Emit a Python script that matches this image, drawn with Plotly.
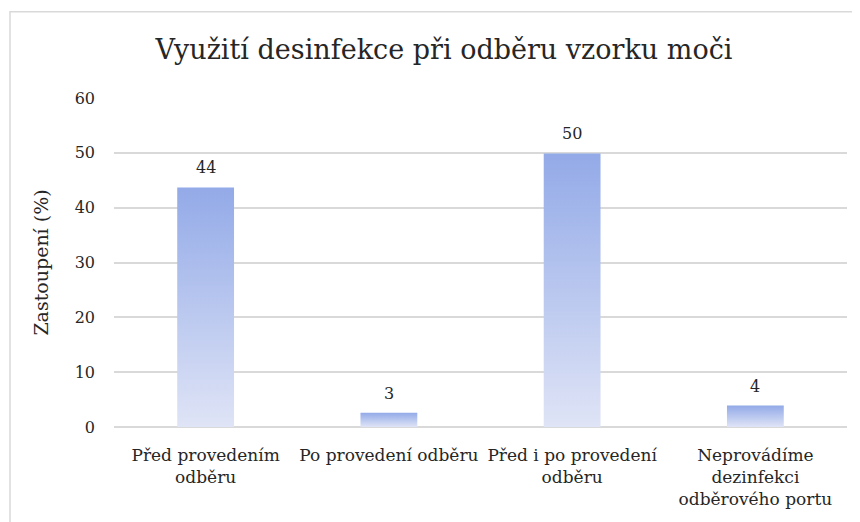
import plotly.graph_objects as go

# Data
categories = [
    "Před provedením<br>odběru",
    "Po provedení odběru",
    "Před i po provedení<br>odběru",
    "Neprovádíme<br>dezinfekci<br>odběrového portu",
]
values = [43.7, 2.6, 49.9, 3.9]
y_ticks = [0, 10, 20, 30, 40, 50, 60]

TOP_COLOR = "#93aae8"
BOTTOM_COLOR = "#dfe4f6"
GRID = "#d9d9d9"
TEXT = "#262626"
FONT = "DejaVu Serif"  # the only serif face the renderer has
BAR_WIDTH = 0.31

# the page body has an 8px margin, so the figure is drawn 8px in
W, H = 852, 514

fig = go.Figure()

# gradient bars: one filled area per category, gradient from 0 up to the value
for i, v in enumerate(values):
    fig.add_trace(
        go.Scatter(
            x=[i - BAR_WIDTH / 2, i + BAR_WIDTH / 2],
            y=[v, v],
            mode="none",
            fill="tozeroy",
            fillgradient=dict(
                type="vertical",
                start=0,
                stop=v,
                colorscale=[[0, BOTTOM_COLOR], [1, TOP_COLOR]],
            ),
            showlegend=False,
            hoverinfo="skip",
        )
    )

# value labels above the bars
annotations = [
    dict(
        x=i,
        y=v,
        xref="x",
        yref="y",
        text=f"{v:.0f}",
        showarrow=False,
        yanchor="bottom",
        yshift=8,
        font=dict(family=FONT, size=16, color=TEXT),
    )
    for i, v in enumerate(values)
]

fig.update_layout(
    width=W,
    height=H,
    margin=dict(l=106, r=13, t=89.5, b=94.7),
    paper_bgcolor="white",
    plot_bgcolor="white",
    font=dict(family=FONT, size=16, color=TEXT),
    title=dict(
        text="Využití desinfekce při odběru vzorku moči",
        font=dict(family=FONT, size=27, color=TEXT),
        x=436 / W,
        xanchor="center",
        xref="container",
        y=1 - 42 / H,
        yanchor="middle",
        yref="container",
    ),
    annotations=annotations,
    xaxis=dict(
        range=[-0.5, len(categories) - 0.5],
        tickvals=list(range(len(categories))),
        ticktext=categories,
        showgrid=False,
        zeroline=False,
        showline=False,
        ticks="",
        tickangle=0,
        tickfont=dict(family=FONT, size=17, color=TEXT),
        ticklabelstandoff=16,
        fixedrange=True,
    ),
    yaxis=dict(
        range=[0, 60],
        tickvals=y_ticks,
        showgrid=True,
        gridcolor=GRID,
        gridwidth=1.5,
        zeroline=True,
        zerolinecolor=GRID,
        zerolinewidth=1.5,
        showline=False,
        ticks="",
        ticklabelstandoff=18,
        tickfont=dict(family=FONT, size=16, color=TEXT),
        title=dict(
            text="Zastoupení (%)",
            font=dict(family=FONT, size=19, color=TEXT),
            standoff=20,
        ),
        fixedrange=True,
    ),
    shapes=[
        dict(
            type="rect",
            xref="paper",
            yref="paper",
            x0=(2 - 106) / 733,
            x1=1.2,
            y0=-0.5,
            y1=(419.3 - 3) / 329.8,
            line=dict(color=GRID, width=1.5),
            fillcolor="rgba(0,0,0,0)",
            layer="below",
        )
    ],
)

fig.write_html("out.html")
